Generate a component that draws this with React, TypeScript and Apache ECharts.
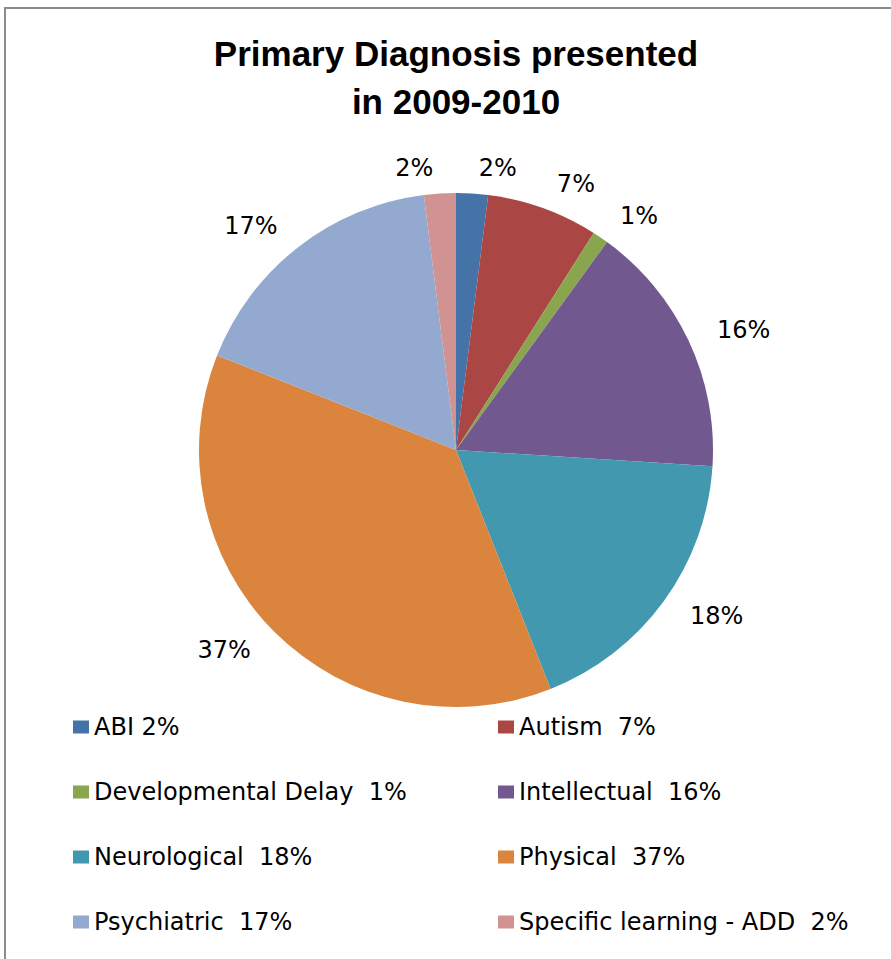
import React, { useEffect, useRef } from "react";
import * as echarts from "echarts";

const titleText = "Primary Diagnosis presented\nin 2009-2010";
const categories = [
  "ABI",
  "Autism",
  "Developmental Delay",
  "Intellectual",
  "Neurological",
  "Physical",
  "Psychiatric",
  "Specific learning - ADD",
];
const values = [2, 7, 1, 16, 18, 37, 17, 2];
const legendLabels = [
  "ABI 2%",
  "Autism  7%",
  "Developmental Delay  1%",
  "Intellectual  16%",
  "Neurological  18%",
  "Physical  37%",
  "Psychiatric  17%",
  "Specific learning - ADD  2%",
];
const colors = ["#4572A7", "#AA4643", "#89A54E", "#71588F", "#4198AF", "#DB843D", "#93A9CF", "#D19392"];

export default function App() {
  const ref = useRef<HTMLDivElement>(null);
  useEffect(() => {
    if (!ref.current) return;
    const chart = echarts.init(ref.current, null, { renderer: "svg" });
    const legendMap: Record<string, string> = {};
    categories.forEach((c, i) => (legendMap[c] = legendLabels[i]));
    const leftCol = categories.filter((_, i) => i % 2 === 0);
    const rightCol = categories.filter((_, i) => i % 2 === 1);
    const legendBase = {
      orient: "vertical" as const,
      top: 715,
      padding: 0,
      itemWidth: 16,
      itemHeight: 13,
      itemGap: 41,
      icon: "rect",
      formatter: (n: string) => legendMap[n],
      textStyle: { fontFamily: "DejaVu Sans", fontSize: 24, lineHeight: 24, color: "#000" },
    };
    chart.setOption({
      animation: false,
      backgroundColor: "#fff",
      color: colors,
      title: {
        text: titleText,
        left: 456,
        top: 29,
        padding: 0,
        textAlign: "center",
        textStyle: {
          fontFamily: "Liberation Sans",
          fontWeight: "bold",
          fontSize: 35,
          lineHeight: 48,
          color: "#000",
        },
      },
      graphic: [
        {
          type: "rect",
          shape: { x: 5, y: 8, width: 1000, height: 1000 },
          style: { fill: "none", stroke: "#8c8c8c", lineWidth: 2 },
          silent: true,
        },
      ],
      legend: [
        { ...legendBase, left: 73, data: leftCol },
        { ...legendBase, left: 498, data: rightCol },
      ],
      series: [
        {
          type: "pie",
          center: [456, 450],
          radius: 257,
          startAngle: 90,
          clockwise: true,
          avoidLabelOverlap: false,
          data: categories.map((c, i) => ({ name: c, value: values[i] })),
          label: {
            show: true,
            position: "outside",
            formatter: "{c}%",
            fontFamily: "DejaVu Sans",
            fontSize: 24,
            color: "#000",
          },
          labelLine: { show: false, length: 26, length2: 0 },
          itemStyle: { borderWidth: 0 },
          emphasis: { disabled: true },
        },
      ],
    });
    return () => chart.dispose();
  }, []);
  return (
    <div
      ref={ref}
      style={{ position: "absolute", left: 0, top: 0, width: 891, height: 959 }}
    />
  );
}
